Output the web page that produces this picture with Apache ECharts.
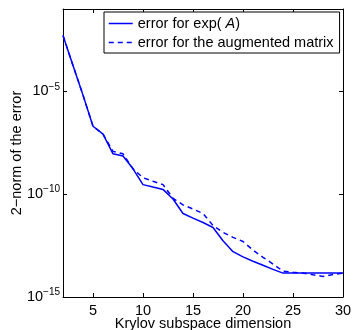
<!DOCTYPE html>
<html>
<head>
<meta charset="utf-8">
<script src="https://cdn.jsdelivr.net/npm/echarts@6/dist/echarts.min.js"></script>
<style>
  html, body { margin: 0; padding: 0; background: #fff; }
  #chart { width: 353px; height: 330px; }
</style>
</head>
<body>
<div id="chart"></div>
<script>
// Krylov subspace dimension
const dims = [2, 3, 4, 5, 6, 7, 8, 9, 10, 11, 12, 13, 14, 15, 16, 17, 18, 19, 20, 21, 22, 23, 24, 25, 26, 27, 28, 29, 30];
// error for exp(A)
const errExp = [5.1e-3, 1.8e-4, 6.5e-6, 2.0e-7, 8.3e-8, 9.1e-9, 7.2e-9, 1.7e-9, 2.9e-10, 2.2e-10,
  1.7e-10, 5.8e-11, 1.15e-11, 6.8e-12, 4.2e-12, 2.4e-12, 5.4e-13, 1.6e-13, 8.9e-14, 5.5e-14,
  3.5e-14, 2.2e-14, 1.45e-14, 1.45e-14, 1.45e-14, 1.45e-14, 1.45e-14, 1.45e-14, 1.45e-14];
// error for the augmented matrix
const errAug = [5.1e-3, 1.8e-4, 6.5e-6, 2.0e-7, 8.3e-8, 1.2e-8, 9.1e-9, 1.7e-9, 6.3e-10, 4.2e-10,
  2.9e-10, 6.3e-11, 3.0e-11, 1.9e-11, 1.15e-11, 3.0e-12, 1.4e-12, 7.9e-13, 5.0e-13, 1.9e-13,
  8.5e-14, 4.0e-14, 1.8e-14, 1.6e-14, 1.45e-14, 1.2e-14, 1.0e-14, 1.25e-14, 1.45e-14];
const xTicks = [5, 10, 15, 20, 25, 30];
const names = ['error for exp( A)', 'error for the augmented matrix'];

const font = 'Liberation Sans, Arial, Helvetica, sans-serif';
const blue = '#0000ff';

const pairs = (ys) => dims.map((d, i) => [d, ys[i]]);

const supLabel = (v) => {
  const e = Math.round(Math.log10(v));
  if (e % 5 !== 0) return '';
  return '{b|10}{s|' + (e < 0 ? '\u2212' : '') + Math.abs(e) + '}';
};

const myChart = echarts.init(document.getElementById('chart'));
myChart.setOption({
  animation: false,
  backgroundColor: '#fff',
  textStyle: { fontFamily: font, color: '#000' },
  grid: { left: 63, right: 10, top: 9, bottom: 33, outerBoundsMode: 'none' },
  legend: {
    orient: 'vertical',
    left: 104,
    top: 12,
    padding: [4, 6, 3, 4],
    itemGap: 4,
    itemWidth: 24,
    itemHeight: 14,
    borderColor: '#000',
    borderWidth: 1,
    backgroundColor: '#fff',
    itemStyle: { opacity: 0 },
    lineStyle: { width: 1.5 },
    data: names,
    formatter: (n) => n === names[0] ? 'error for exp( {i|A})' : n,
    textStyle: {
      fontFamily: font, fontSize: 14.5, color: '#000',
      rich: { i: { fontFamily: font, fontSize: 14.5, fontStyle: 'italic', color: '#000' } }
    }
  },
  xAxis: [{
    type: 'value', min: 2, max: 30,
    name: 'Krylov subspace dimension', nameLocation: 'middle', nameGap: 19, nameMoveOverlap: false,
    nameTextStyle: { fontFamily: font, fontSize: 14.5, color: '#000' },
    axisLine: { onZero: false, lineStyle: { color: '#000', width: 1 } },
    axisTick: { inside: true, length: 4, customValues: xTicks, lineStyle: { color: '#000' } },
    axisLabel: { customValues: xTicks, margin: 6, fontFamily: font, fontSize: 14.5, color: '#000' },
    splitLine: { show: false }
  }, {
    type: 'value', min: 2, max: 30, position: 'top',
    axisLine: { onZero: false, lineStyle: { color: '#000', width: 1 } },
    axisTick: { inside: true, length: 4, customValues: xTicks, lineStyle: { color: '#000' } },
    axisLabel: { show: false },
    splitLine: { show: false }
  }],
  yAxis: [{
    type: 'log', logBase: 10, min: 1e-15, max: 1e-1, interval: 5,
    name: '2\u2212norm of the error', nameLocation: 'middle', nameGap: 39, nameMoveOverlap: false,
    nameTextStyle: { fontFamily: font, fontSize: 14.5, color: '#000' },
    axisLine: { onZero: false, lineStyle: { color: '#000', width: 1 } },
    axisTick: { inside: true, length: 4, lineStyle: { color: '#000' } },
    axisLabel: {
      margin: 3, formatter: supLabel,
      rich: {
        b: { fontFamily: font, fontSize: 14.5, color: '#000' },
        s: { fontFamily: font, fontSize: 10, color: '#000', padding: [0, 0, 9, 0] }
      }
    },
    splitLine: { show: false }
  }, {
    type: 'log', logBase: 10, min: 1e-15, max: 1e-1, interval: 5, position: 'right',
    axisLine: { onZero: false, lineStyle: { color: '#000', width: 1 } },
    axisTick: { inside: true, length: 4, lineStyle: { color: '#000' } },
    axisLabel: { show: false },
    splitLine: { show: false }
  }],
  series: [{
    name: names[0], type: 'line', data: pairs(errExp),
    symbol: 'none', color: blue,
    lineStyle: { color: blue, width: 1.5 }
  }, {
    name: names[1], type: 'line', data: pairs(errAug),
    symbol: 'none', color: blue,
    lineStyle: { color: blue, width: 1.5, type: [5, 4] }
  }]
});
window.addEventListener('resize', () => myChart.resize());
</script>
</body>
</html>
